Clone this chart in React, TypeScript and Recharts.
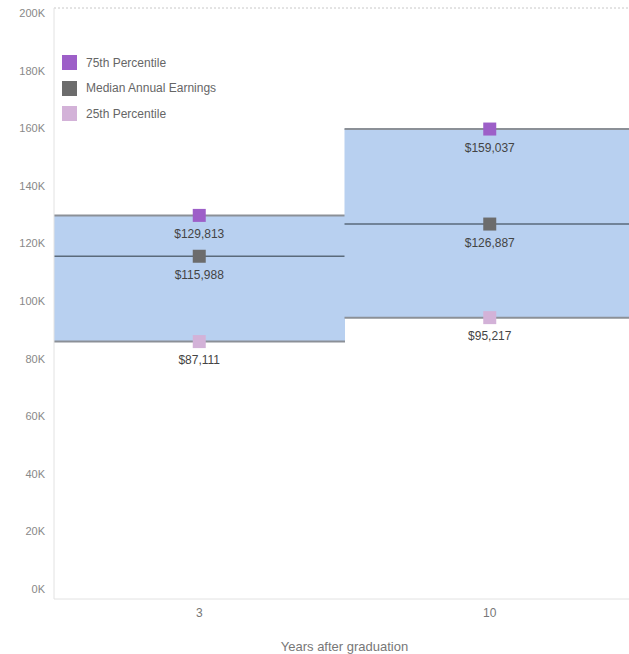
import React from 'react';
import { ComposedChart, Bar, Line, XAxis, YAxis, LabelList, ReferenceLine, Legend } from 'recharts';

const categories = ['3', '10'];
const p75Values = [129813, 159037];
const medianValues = [115988, 126887];
const p25Values = [87111, 95217];
const yTicks = [0, 20000, 40000, 60000, 80000, 100000, 120000, 140000, 160000, 180000, 200000];

const data = categories.map((c, i) => ({
  year: c,
  p75: p75Values[i],
  median: medianValues[i],
  p25: p25Values[i],
}));

const COLORS = {
  p75: '#9d5fc8',
  median: '#6c6c6c',
  p25: '#d3b2d8',
  band: '#b8d0f0',
  edge: '#8b9097',
  mid: '#5a6a7b',
};

const FONT = 'Arial, "Liberation Sans", sans-serif';
const money = (v: number) => '$' + v.toLocaleString('en-US');

const BandShape = (props: any) => {
  const { x, y, width, height, payload } = props;
  if (width == null || height == null) return null;
  const { p25, p75, median } = payload;
  const yMed = y + (height * (p75 - median)) / (p75 - p25);
  return (
    <g>
      <rect x={x} y={y} width={width} height={height} fill={COLORS.band} />
      <line x1={x} x2={x + width} y1={y} y2={y} stroke={COLORS.edge} strokeWidth={2} />
      <line x1={x} x2={x + width} y1={y + height} y2={y + height} stroke={COLORS.edge} strokeWidth={2} />
      <line x1={x} x2={x + width} y1={yMed} y2={yMed} stroke={COLORS.mid} strokeWidth={1.5} />
    </g>
  );
};

const makeSquare = (color: string) => (props: any) => {
  const { cx, cy, index } = props;
  const s = 13;
  return <rect key={'sq' + index} x={cx - s / 2} y={cy - s / 2} width={s} height={s} fill={color} />;
};

const YTick = (props: any) => {
  const { x, y, payload } = props;
  const v = payload.value as number;
  const dy = -10 + 15 * (v / 200000);
  return (
    <text x={x} y={y + dy} textAnchor="end" dominantBaseline="central" fontSize={11} fill="#888" fontFamily={FONT}>
      {v / 1000 + 'K'}
    </text>
  );
};

const legendItems = [
  { label: '75th Percentile', color: COLORS.p75 },
  { label: 'Median Annual Earnings', color: COLORS.median },
  { label: '25th Percentile', color: COLORS.p25 },
];

const LegendContent = () => (
  <div style={{ fontFamily: FONT, fontSize: 12, color: '#666' }}>
    {legendItems.map((it) => (
      <div key={it.label} style={{ display: 'flex', alignItems: 'center', height: 25.5 }}>
        <div style={{ width: 15, height: 15, background: it.color, marginRight: 9 }} />
        <span>{it.label}</span>
      </div>
    ))}
  </div>
);

const labelStyle = { fontSize: 12, fill: '#444', fontFamily: FONT };

export default function App() {
  return (
    <div style={{ position: 'fixed', left: 0, top: 0, width: 629, height: 654, overflow: 'hidden', background: '#fff' }}>
      <ComposedChart
        width={640}
        height={654}
        data={data}
        margin={{ top: 8, right: 5, bottom: 0, left: 0 }}
        barCategoryGap={0}
        barGap={0}
        style={{ fontFamily: FONT }}
      >
        <XAxis
          dataKey="year"
          height={55}
          axisLine={{ stroke: '#e2e2e2' }}
          tickLine={false}
          tick={{ fontSize: 12, fill: '#777' }}
          tickMargin={3}
          label={{ value: 'Years after graduation', position: 'insideBottom', offset: 3, fontSize: 13, fill: '#777' }}
        />
        <YAxis
          width={54}
          domain={[0, 200000]}
          ticks={yTicks}
          interval={0}
          axisLine={{ stroke: '#e2e2e2' }}
          tickLine={false}
          tickSize={0}
          tickMargin={9}
          tick={<YTick />}
        />
        <ReferenceLine y={200000} stroke="#c8c8c8" strokeDasharray="2 2" />
        <Legend
          layout="vertical"
          align="center"
          verticalAlign="middle"
          content={<LegendContent />}
          wrapperStyle={{ position: 'absolute', left: 62, top: 50, width: 200 }}
        />
        <Bar
          dataKey={(d: any) => [d.p25, d.p75]}
          shape={<BandShape />}
          isAnimationActive={false}
          legendType="none"
        />
        <Line dataKey="p75" stroke="none" dot={makeSquare(COLORS.p75)} activeDot={false} isAnimationActive={false}>
          <LabelList dataKey="p75" position="bottom" offset={14} formatter={money as any} style={labelStyle} />
        </Line>
        <Line dataKey="median" stroke="none" dot={makeSquare(COLORS.median)} activeDot={false} isAnimationActive={false}>
          <LabelList dataKey="median" position="bottom" offset={14} formatter={money as any} style={labelStyle} />
        </Line>
        <Line dataKey="p25" stroke="none" dot={makeSquare(COLORS.p25)} activeDot={false} isAnimationActive={false}>
          <LabelList dataKey="p25" position="bottom" offset={14} formatter={money as any} style={labelStyle} />
        </Line>
      </ComposedChart>
    </div>
  );
}
